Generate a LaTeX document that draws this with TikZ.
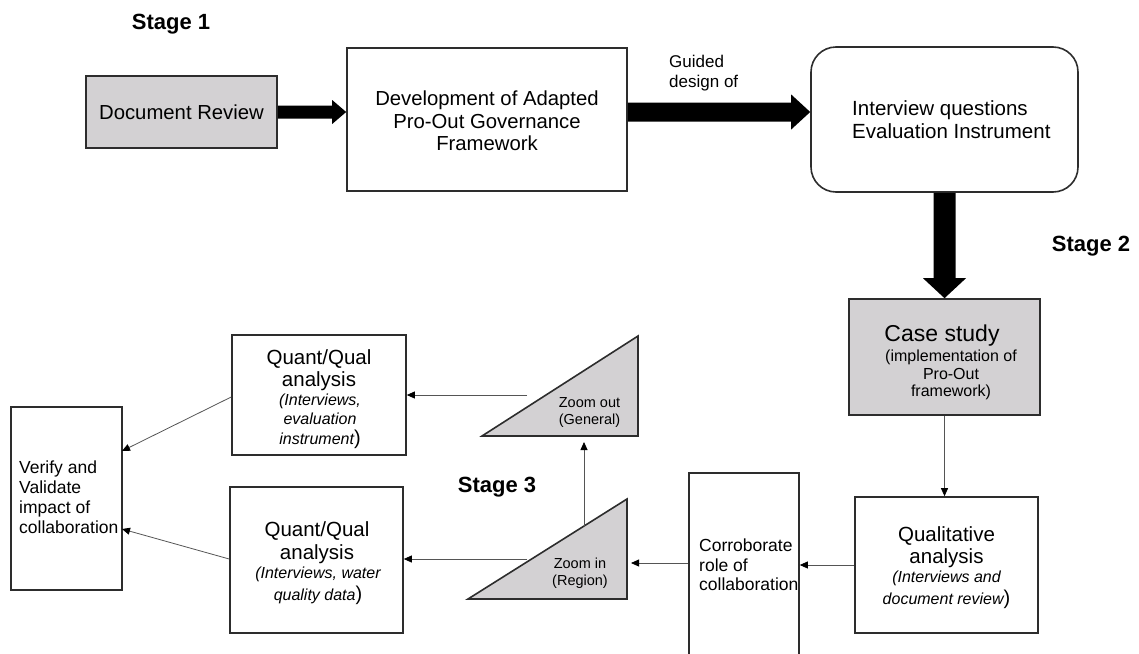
\documentclass[tikz,border=0pt]{standalone}
\usepackage{fontspec}
\setmainfont{Liberation Sans}
\usetikzlibrary{arrows.meta,calc}
\definecolor{boxgray}{RGB}{211,209,211}
\definecolor{edge}{RGB}{45,45,45}
\definecolor{wire}{RGB}{85,85,85}
\newcommand{\fs}[2]{\fontsize{#1}{#2}\selectfont}
% Block arrow pointing right: from #1 to #2, shaft half-width #3, head half-width #4, head length #5
\newcommand{\blockright}[5]{%
  \fill ($(#1)+(0,#3)$) -- ($(#2)+(-#5,#3)$) -- ($(#2)+(-#5,#4)$) -- (#2)
        -- ($(#2)+(-#5,-#4)$) -- ($(#2)+(-#5,-#3)$) -- ($(#1)+(0,-#3)$) -- cycle;}
% Block arrow pointing down: from #1 to #2, shaft half-width #3, head half-width #4, head length #5
\newcommand{\blockdown}[5]{%
  \fill ($(#1)+(#3,0)$) -- ($(#2)+(#3,-#5)$) -- ($(#2)+(#4,-#5)$) -- (#2)
        -- ($(#2)+(-#4,-#5)$) -- ($(#2)+(-#3,-#5)$) -- ($(#1)+(-#3,0)$) -- cycle;}
\tikzset{
  box/.style={draw=edge, line width=1.6pt, inner sep=0pt},
  shaded/.style={box, fill=boxgray},
  txt/.style={inner sep=0pt, align=center},
  ltxt/.style={inner sep=0pt, align=left, anchor=west},
  stagelabel/.style={inner sep=0pt, font=\fs{22}{26}\bfseries},
  wirearrow/.style={draw=wire, line width=0.8pt, -{Triangle[length=8pt,width=7pt,color=black]}},
}
\begin{document}
\begin{tikzpicture}[x=1pt,y=-1pt]
\useasboundingbox (0,0) rectangle (1139,653);

% Stage labels
\node[stagelabel] (s1) at (171,24) {Stage 1};
\node[stagelabel] (s2) at (1091,246) {Stage 2};
\node[stagelabel] (s3) at (497,487) {Stage 3};

% Stage 1 boxes
\node[shaded, minimum width=191pt, minimum height=72pt] (docrev) at (181.5,112) {};
\node[txt, font=\fs{20.3}{24}] (docrevt) at (181.5,112) {Document Review};

\node[box, minimum width=280pt, minimum height=143pt] (dev) at (487,119.5) {};
\node[txt, font=\fs{20.3}{22.5}] (devt) at (487,121) {Development of Adapted\\Pro-Out Governance\\Framework};

\node[box, rounded corners=25pt, minimum width=267pt, minimum height=145pt] (intv) at (944.5,119.5) {};
\node[ltxt, font=\fs{20.5}{23}] (intvt) at (852,119.5) {Interview questions\\Evaluation Instrument};

\node[ltxt, font=\fs{17}{20}] (guided) at (669,73) {Guided\\design of};

% Stage 2 boxes
\node[shaded, minimum width=191pt, minimum height=116pt] (case) at (944.5,357) {};
\node[txt, font=\fs{23}{26}] (caset) at (942,336) {Case study};
\node[txt, font=\fs{16}{17.5}] (cases) at (951,375) {(implementation of\\Pro-Out\\framework)};

\node[box, minimum width=183pt, minimum height=136pt] (qual) at (946.5,565) {};
\node[txt, font=\fs{20.5}{22}] (qualt) at (946.5,547) {Qualitative\\analysis};
\node[txt, font=\fs{16}{22}] (quals) at (946.5,590) {\itshape (Interviews and\\\itshape document review\upshape\fs{20}{22})};

% Stage 3 boxes
\node[box, minimum width=110pt, minimum height=182pt] (corr) at (744,564) {};
\node[ltxt, font=\fs{17.5}{19.5}] (corrt) at (699,565) {Corroborate\\role of\\collaboration};

\node[box, minimum width=174pt, minimum height=120pt] (qtop) at (319,395) {};
\node[txt, font=\fs{20.5}{22}] (qtopt) at (319,370) {Quant/Qual\\analysis};
\node[txt, font=\fs{16}{19.5}] (qtops) at (320,421) {\itshape (Interviews,\\\itshape evaluation\\\itshape instrument\upshape\fs{20}{19.5})};

\node[box, minimum width=173pt, minimum height=146pt] (qbot) at (316.5,560) {};
\node[txt, font=\fs{20.5}{23}] (qbott) at (317,543) {Quant/Qual\\analysis};
\node[txt, font=\fs{16}{22}] (qbots) at (318,586) {\itshape (Interviews, water\\\itshape quality data\upshape\fs{20}{22})};

\node[box, minimum width=111pt, minimum height=183pt] (verify) at (66.5,498.5) {};
\node[ltxt, font=\fs{17.5}{20}] (verifyt) at (19,497) {Verify and\\Validate\\impact of\\collaboration};

% Zoom triangles
\coordinate (zoA) at (482,436); \coordinate (zoB) at (638,436); \coordinate (zoC) at (638,336);
\draw[edge, fill=boxgray, line width=1.6pt] (zoA) -- (zoB) -- (zoC) -- cycle;
\node[txt, font=\fs{14.5}{17}] (zot) at (589.5,413) {Zoom out\\(General)};

\coordinate (ziA) at (468,599); \coordinate (ziB) at (627,599); \coordinate (ziC) at (627,499);
\draw[edge, fill=boxgray, line width=1.6pt] (ziA) -- (ziB) -- (ziC) -- cycle;
\node[txt, font=\fs{14.5}{16.5}] (zit) at (580,573) {Zoom in\\(Region)};

% Block arrows (the top row runs level with the Document Review box)
\coordinate (devin) at (docrev.east -| dev.west);
\coordinate (devout) at (docrev.east -| dev.east);
\coordinate (intvin) at (docrev.east -| intv.west);
\blockright{docrev.east}{devin}{6.5}{12}{14}
\blockright{devout}{intvin}{9.5}{17.5}{19}
\blockdown{intv.south}{case.north}{11}{21.5}{20}

% Thin connectors
\draw[wirearrow] (case.south) -- (case.south |- qual.north);
\draw[wirearrow] (qual.west) -- (qual.west -| corr.east);
\coordinate (zin) at (631,563);
\draw[wirearrow] (corr.west |- zin) -- (zin);
\coordinate (zupA) at (584,527);
\coordinate (zupB) at (584,442);
\draw[wirearrow] (zupA) -- (zupB);
\coordinate (zoL) at (527,395);
\coordinate (ziL) at (527,559);
\draw[wirearrow] (zoL) -- (zoL -| qtop.east);
\draw[wirearrow] (ziL) -- (ziL -| qbot.east);
\coordinate (vT) at (122,451);
\coordinate (vB) at (122,529);
\draw[wirearrow] (qtop.west |- 0,397) -- (vT);
\draw[wirearrow] (qbot.west |- 0,559) -- (vB);
\end{tikzpicture}
\end{document}
